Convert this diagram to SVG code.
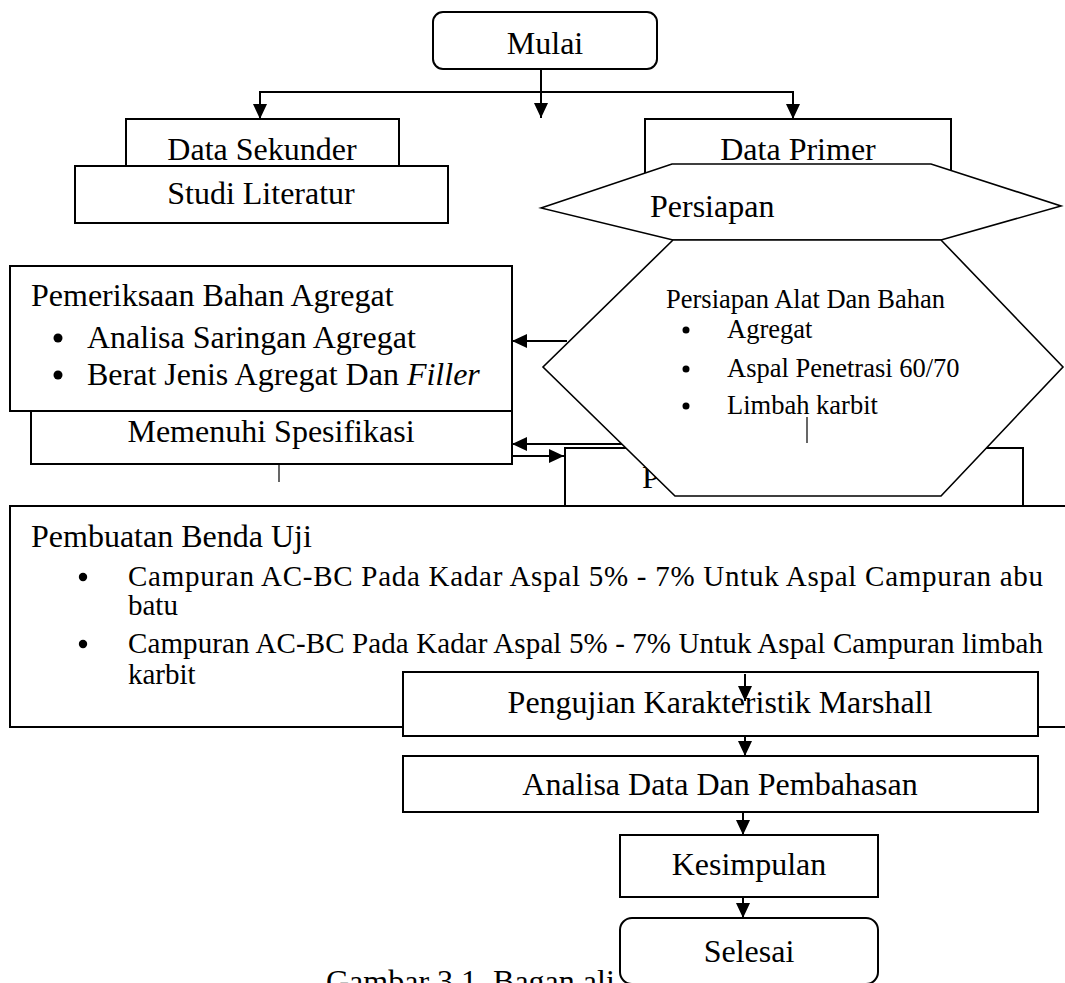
<svg xmlns="http://www.w3.org/2000/svg" width="1065" height="983" viewBox="0 0 1065 983">
<style>
  text{font-family:"Liberation Serif","Times New Roman",serif;fill:#000}
  .t{font-size:32px}
  .p{font-size:29px}
  .s{font-size:26.5px}
  .c{text-anchor:middle}
  .box{fill:#fff;stroke:#000;stroke-width:2}
  .hex{fill:#fff;stroke:#000;stroke-width:1.6}
  .ln{fill:none;stroke:#000;stroke-width:2}
  .thin{fill:none;stroke:#000;stroke-width:1.2}
  .dot{fill:#000}
</style>
<defs>
  <marker id="ah" markerUnits="userSpaceOnUse" markerWidth="15" markerHeight="14" refX="15" refY="7" orient="auto">
    <path d="M0,0 L15,7 L0,14 z" fill="#000"/>
  </marker>
</defs>
<rect width="1065" height="983" fill="#fff"/>

<g id="data-sekunder">
  <rect class="box" x="126" y="119" width="273" height="60"/>
  <text class="t c" x="262" y="160">Data Sekunder</text>
</g>
<g id="studi-literatur">
  <rect class="box" x="75" y="166" width="373" height="57"/>
  <text class="t c" x="261" y="204">Studi Literatur</text>
</g>
<g id="data-primer">
  <rect class="box" x="645" y="119" width="306" height="80"/>
  <text class="t c" x="798" y="160">Data Primer</text>
</g>
<g id="hidden-box">
  <rect class="box" x="565" y="448" width="458" height="80"/>
  <text class="t" x="642" y="488">P</text>
</g>
<g id="persiapan">
  <polygon class="hex" points="541,208 672,164 931,164 1061,206 941,240 673,240"/>
  <text class="t" x="650" y="217">Persiapan</text>
</g>
<g id="persiapan-alat">
  <polygon class="hex" points="673,240 941,240 1063,367 941,496 675,496 543,367"/>
  <text class="s" x="666" y="308">Persiapan Alat Dan Bahan</text>
  <circle class="dot" cx="686" cy="330" r="3.5"/>
  <text class="s" x="727" y="338">Agregat</text>
  <circle class="dot" cx="686" cy="369" r="3.5"/>
  <text class="s" x="727" y="377">Aspal Penetrasi 60/70</text>
  <circle class="dot" cx="686" cy="406" r="3.5"/>
  <text class="s" x="727" y="414">Limbah karbit</text>
</g>
<g id="pemeriksaan">
  <rect class="box" x="10" y="266" width="502" height="145"/>
  <text class="t" x="31" y="306">Pemeriksaan Bahan Agregat</text>
  <circle class="dot" cx="58" cy="338" r="4.5"/>
  <text class="t" x="87" y="348">Analisa Saringan Agregat</text>
  <circle class="dot" cx="58" cy="375" r="4.5"/>
  <text class="t" x="87" y="385">Berat Jenis Agregat Dan <tspan font-style="italic">Filler</tspan></text>
</g>
<g id="memenuhi">
  <rect class="box" x="31" y="411" width="481" height="53"/>
  <text class="t c" x="271" y="442">Memenuhi Spesifikasi</text>
</g>
<g id="pembuatan">
  <rect class="box" x="10" y="506" width="1070" height="221"/>
  <text class="t" x="31" y="547">Pembuatan Benda Uji</text>
  <circle class="dot" cx="83" cy="577" r="4.2"/>
  <text class="p" x="128" y="586" textLength="915" lengthAdjust="spacing">Campuran AC-BC Pada Kadar Aspal 5% - 7% Untuk Aspal Campuran abu</text>
  <text class="p" x="128" y="615">batu</text>
  <circle class="dot" cx="83" cy="644" r="4.2"/>
  <text class="p" x="128" y="653" textLength="915" lengthAdjust="spacing">Campuran AC-BC Pada Kadar Aspal 5% - 7% Untuk Aspal Campuran limbah</text>
  <text class="p" x="128" y="684">karbit</text>
</g>
<g id="pengujian">
  <rect class="box" x="403" y="672" width="635" height="64"/>
  <text class="t c" x="720" y="713">Pengujian Karakteristik Marshall</text>
</g>
<g id="analisa">
  <rect class="box" x="403" y="756" width="635" height="56"/>
  <text class="t c" x="720" y="795">Analisa Data Dan Pembahasan</text>
</g>
<g id="kesimpulan">
  <rect class="box" x="620" y="835" width="258" height="62"/>
  <text class="t c" x="749" y="875">Kesimpulan</text>
</g>
<g id="caption">
  <text class="t" x="326" y="992">Gambar 3.1. Bagan ali</text>
</g>
<g id="selesai">
  <rect class="box" x="620" y="918" width="258" height="66" rx="12"/>
  <text class="t c" x="749" y="962">Selesai</text>
</g>
<g id="mulai">
  <rect class="box" x="433" y="12" width="224" height="57" rx="10"/>
  <text class="t c" x="545" y="54">Mulai</text>
</g>

<g id="connectors">
  <line class="ln" x1="541" y1="69" x2="541" y2="118" marker-end="url(#ah)"/>
  <line class="ln" x1="260" y1="92" x2="793" y2="92"/>
  <line class="ln" x1="260" y1="91" x2="260" y2="119" marker-end="url(#ah)"/>
  <line class="ln" x1="793" y1="91" x2="793" y2="119" marker-end="url(#ah)"/>
  <line class="ln" x1="567" y1="341" x2="512" y2="341" marker-end="url(#ah)"/>
  <line class="ln" x1="622" y1="444" x2="512" y2="444" marker-end="url(#ah)"/>
  <line class="ln" x1="512" y1="456" x2="564" y2="456" marker-end="url(#ah)"/>
  <line class="thin" x1="279" y1="464" x2="279" y2="482"/>
  <line class="thin" x1="807" y1="417" x2="807" y2="443"/>
  <line class="ln" x1="745" y1="674" x2="745" y2="701" marker-end="url(#ah)"/>
  <line class="ln" x1="745" y1="736" x2="745" y2="756" marker-end="url(#ah)"/>
  <line class="ln" x1="743" y1="812" x2="743" y2="835" marker-end="url(#ah)"/>
  <line class="ln" x1="743" y1="897" x2="743" y2="918" marker-end="url(#ah)"/>
</g>
</svg>
